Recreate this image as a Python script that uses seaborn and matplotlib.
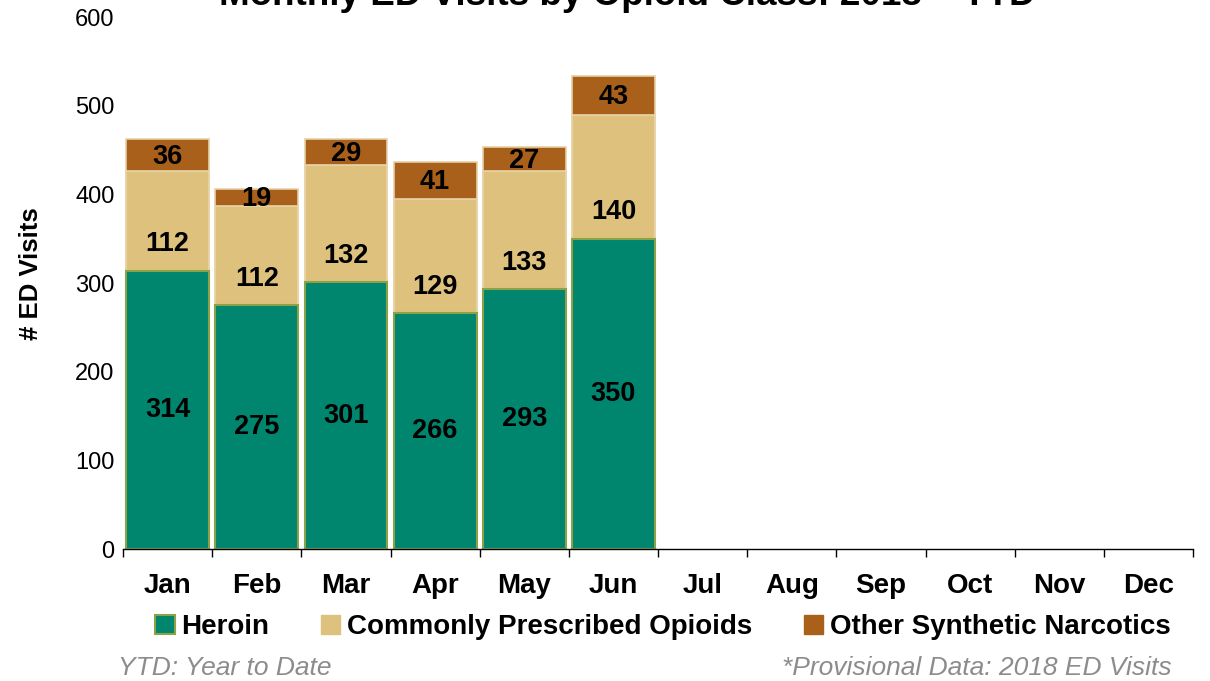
import pandas as pd
import seaborn as sns
import matplotlib.pyplot as plt
from matplotlib.patches import Patch
from matplotlib.ticker import FixedLocator

# Data
months = ['Jan', 'Feb', 'Mar', 'Apr', 'May', 'Jun', 'Jul', 'Aug', 'Sep', 'Oct', 'Nov', 'Dec']
data_months = ['Jan', 'Feb', 'Mar', 'Apr', 'May', 'Jun']
heroin = [314, 275, 301, 266, 293, 350]
prescribed = [112, 112, 132, 129, 133, 140]
synthetic = [36, 19, 29, 41, 27, 43]

df = pd.DataFrame({'month': data_months, 'Heroin': heroin,
                   'Prescribed': prescribed, 'Synthetic': synthetic})
df['lvl2'] = df['Heroin'] + df['Prescribed']
df['total'] = df['lvl2'] + df['Synthetic']

sns.set_style('white')
plt.rcParams['font.family'] = ['Liberation Sans', 'DejaVu Sans']
plt.rcParams['text.color'] = 'black'
plt.rcParams['axes.labelcolor'] = 'black'
plt.rcParams['xtick.color'] = 'black'
plt.rcParams['ytick.color'] = 'black'

c_her = '#00856F'
c_pre = '#DFC17E'
c_syn = '#A8601B'

fig = plt.figure(figsize=(12.1, 6.81), dpi=100)
ax = fig.add_axes([0.1017, 0.1938, 0.8843, 0.7812])

# stacked bars drawn as layered cumulative totals
sns.barplot(data=df, x='month', y='total', order=months, color=c_syn, width=0.93,
            edgecolor='#E6CFA6', linewidth=1.2, saturation=1, ax=ax)
sns.barplot(data=df, x='month', y='lvl2', order=months, color=c_pre, width=0.93,
            edgecolor='#E9D5AA', linewidth=1.2, saturation=1, ax=ax)
sns.barplot(data=df, x='month', y='Heroin', order=months, color=c_her, width=0.93,
            edgecolor='#8BA346', linewidth=1.5, saturation=1, ax=ax)

# value labels
lab = dict(ha='center', va='center', fontsize=19.5, fontweight='bold', color='black')
for i, r in df.iterrows():
    ax.text(i, r['Heroin'] / 2, str(r['Heroin']), **lab)
    ax.text(i, r['Heroin'] + 30, str(r['Prescribed']), **lab)
    ax.text(i, r['lvl2'] + r['Synthetic'] / 2 - 2, str(r['Synthetic']), **lab)

ax.set_ylim(0, 600)
ax.set_xlim(-0.5, 11.5)
ax.set_yticks(range(0, 601, 100))
ax.tick_params(axis='y', length=0, labelsize=17, pad=6)
ax.tick_params(axis='x', which='major', length=0, labelsize=20, pad=17)
ax.xaxis.set_minor_locator(FixedLocator([i - 0.5 for i in range(13)]))
ax.tick_params(axis='x', which='minor', bottom=True, length=6, width=1,
               direction='out', color='black')
for lbl in ax.get_xticklabels():
    lbl.set_fontweight('bold')
ax.set_xlabel('')
ax.set_ylabel('# ED Visits', fontsize=18.5, fontweight='bold')
ax.yaxis.set_label_coords(-0.075, 0.517)
sns.despine(ax=ax, left=True, top=True, right=True)
ax.spines['bottom'].set_color('black')
ax.spines['bottom'].set_linewidth(1)

# title (cut off at top, as in the source)
fig.text(0.518, 1 - 5 / 681, 'Monthly ED Visits by Opioid Class: 2018 \u2013 YTD',
         ha='center', va='baseline', fontsize=26.5, fontweight='bold')

handles = [Patch(facecolor=c_her, edgecolor='#8BA346', linewidth=1.5, label='Heroin'),
           Patch(facecolor=c_pre, edgecolor=c_pre, label='Commonly Prescribed Opioids'),
           Patch(facecolor=c_syn, edgecolor=c_syn, label='Other Synthetic Narcotics')]
leg = fig.legend(handles=handles, loc='center', bbox_to_anchor=(0.548, 1 - 627 / 681),
                 ncol=3, frameon=False, handlelength=0.7, handleheight=0.7,
                 handletextpad=0.25, columnspacing=1.85,
                 prop={'size': 20, 'weight': 'bold'})

fig.text(118 / 1210, 1 - 668 / 681, 'YTD: Year to Date', ha='left', va='center',
         fontsize=19, style='italic', color='#8C8C8C')
fig.text(1172 / 1210, 1 - 668 / 681, '*Provisional Data: 2018 ED Visits', ha='right',
         va='center', fontsize=19, style='italic', color='#8C8C8C')

fig.savefig('out.png', dpi=100)
